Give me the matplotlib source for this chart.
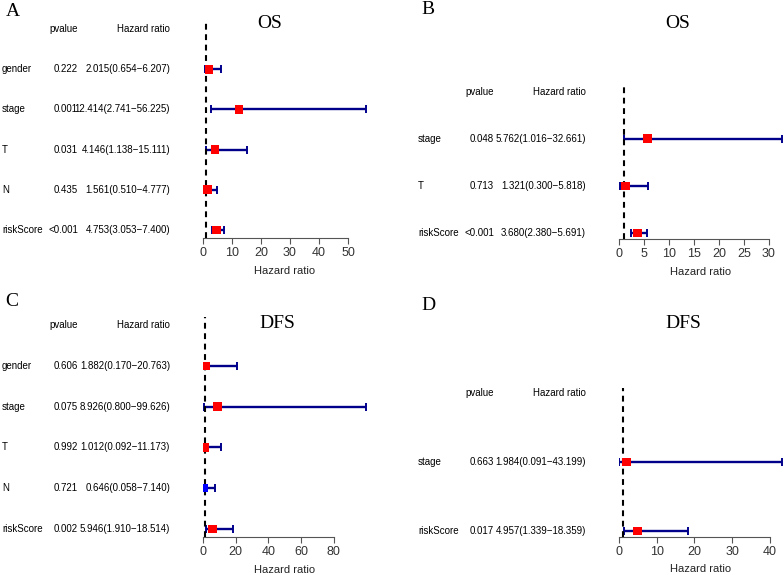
import matplotlib
matplotlib.use("Agg")
from matplotlib import pyplot as plt
import numpy as np

# panel A: OS, univariate
a_vars = ["gender", "stage", "T", "N", "riskScore"]
a_pval = ["0.222", "0.001", "0.031", "0.435", "<0.001"]
a_hr = [2.015, 12.414, 4.146, 1.561, 4.753]
a_low = [0.654, 2.741, 1.138, 0.510, 3.053]
a_high = [6.207, 56.225, 15.111, 4.777, 7.400]
a_ticks = [0, 10, 20, 30, 40, 50]

# panel B: OS, multivariate
b_vars = ["stage", "T", "riskScore"]
b_pval = ["0.048", "0.713", "<0.001"]
b_hr = [5.762, 1.321, 3.680]
b_low = [1.016, 0.300, 2.380]
b_high = [32.661, 5.818, 5.691]
b_ticks = [0, 5, 10, 15, 20, 25, 30]

# panel C: DFS, univariate
c_vars = ["gender", "stage", "T", "N", "riskScore"]
c_pval = ["0.606", "0.075", "0.992", "0.721", "0.002"]
c_hr = [1.882, 8.926, 1.012, 0.646, 5.946]
c_low = [0.170, 0.800, 0.092, 0.058, 1.910]
c_high = [20.763, 99.626, 11.173, 7.140, 18.514]
c_ticks = [0, 20, 40, 60, 80]

# panel D: DFS, multivariate
d_vars = ["stage", "riskScore"]
d_pval = ["0.663", "0.017"]
d_hr = [1.984, 4.957]
d_low = [0.091, 1.339]
d_high = [43.199, 18.359]
d_ticks = [0, 10, 20, 30, 40]

W, H = 784, 575
fig = plt.figure(figsize=(W / 100, H / 100), dpi=100)
SANS = "Liberation Sans"
SERIF = "Liberation Serif"


def px_axes(x0, x1, ytop, ybot):
	return fig.add_axes([x0 / W, 1 - ybot / H, (x1 - x0) / W, (ybot - ytop) / H])


def forest(left, ytop, ybot, vars_, pval, hr, low, high, ticks):
	n = len(vars_)
	pad = 0.04 * n
	ylim = (1 - pad, n + 1 + pad)
	ys = np.arange(n, 0, -1)

	# text columns
	fs = 7
	tx = px_axes(left, left + 168, ytop, ybot)
	tx.set_xlim(0, 3)
	tx.set_ylim(*ylim)
	tx.axis("off")
	for y, v, p, h, lo, hi in zip(ys, vars_, pval, hr, low, high):
		tx.text(0, y, v, ha="left", va="center", fontsize=fs, family=SANS)
		tx.text(1.36, y, p, ha="right", va="center", fontsize=fs, family=SANS)
		tx.text(3, y, "%.3f(%.3f\u2212%.3f)" % (h, lo, hi), ha="right", va="center",
			fontsize=fs, family=SANS)
	tx.text(1.36, n + 1, "pvalue", ha="right", va="center", fontsize=fs, family=SANS)
	tx.text(3, n + 1, "Hazard ratio", ha="right", va="center", fontsize=fs, family=SANS)

	# forest
	fx0 = left + 201
	ax = px_axes(fx0, fx0 + 163, ytop, ybot)
	ax.set_xlim(0, max(max(low), max(high)))
	ax.set_ylim(*ylim)
	hr = np.array(hr)
	lo = np.array(low)
	hi = np.array(high)
	ax.errorbar(hr, ys, xerr=[hr - lo, hi - hr], fmt="none", ecolor="#00008B",
		elinewidth=1.7, capsize=2.6, capthick=1.4, zorder=2)
	ax.axvline(1, color="black", ls=(0, (2.8, 2.2)), lw=1.5, zorder=3)
	cols = ["red" if h > 1 else "blue" for h in hr]
	ax.scatter(hr, ys, marker="s", s=38, c=cols, zorder=4, linewidths=0)
	for s in ["top", "right", "left"]:
		ax.spines[s].set_visible(False)
	ax.spines["bottom"].set_bounds(ticks[0], ticks[-1])
	ax.spines["bottom"].set_color("#555555")
	ax.set_xticks(ticks)
	ax.set_yticks([])
	ax.tick_params(axis="x", length=4, width=0.8, color="#555555", labelsize=9,
		labelcolor="#333333", pad=2.5)
	for lab in ax.get_xticklabels():
		lab.set_family(SANS)
	ax.set_xlabel("Hazard ratio", fontsize=8, family=SANS, color="#222222", labelpad=5)
	ax.patch.set_alpha(0)
	tx.patch.set_alpha(0)
	return ax


forest(2, 21, 238, a_vars, a_pval, a_hr, a_low, a_high, a_ticks)
forest(418, 86, 238.6, b_vars, b_pval, b_hr, b_low, b_high, b_ticks)
forest(2, 317, 537, c_vars, c_pval, c_hr, c_low, c_high, c_ticks)
forest(418, 387.5, 536.5, d_vars, d_pval, d_hr, d_low, d_high, d_ticks)


def ftext(x, y, s, size):
	fig.text(x / W, 1 - y / H, s, ha="center", va="center", fontsize=size, family=SERIF)


ftext(13, 11, "A", 14)
ftext(428, 10, "B", 14)
ftext(12, 301, "C", 14)
ftext(428, 305, "D", 14)
ftext(270, 23, "OS", 14)
ftext(678, 23, "OS", 14)
ftext(277, 323, "DFS", 14)
ftext(683, 323, "DFS", 14)

fig.savefig("out.png", dpi=100)
